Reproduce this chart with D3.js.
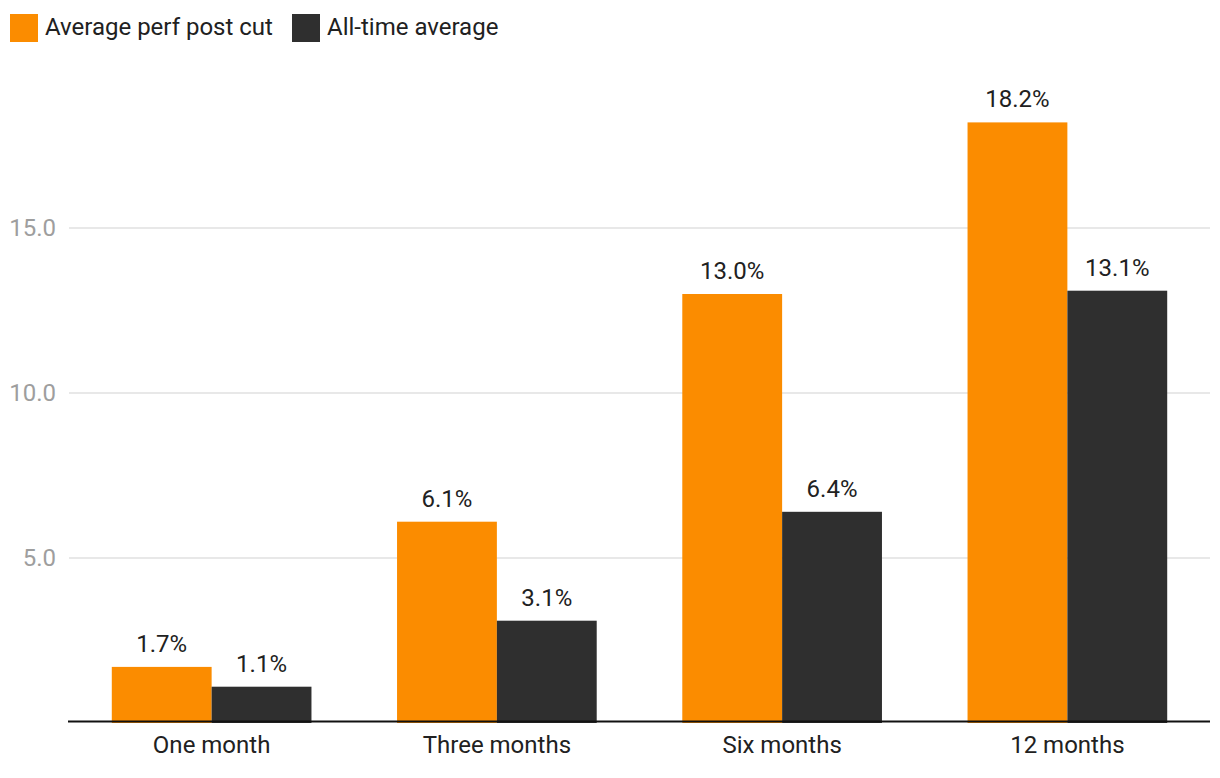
<!DOCTYPE html>
<html><head><meta charset="utf-8">
<script src="https://cdn.jsdelivr.net/npm/d3@7"></script>
<style>body{margin:0;background:#fff;}svg{display:block;font-family:Roboto,sans-serif;}</style>
</head><body><svg id="c" width="1220" height="778"></svg>
<script>
const categories = ["One month", "Three months", "Six months", "12 months"];
const seriesNames = ["Average perf post cut", "All-time average"];
const postCut = [1.7, 6.1, 13.0, 18.2];
const allTime = [1.1, 3.1, 6.4, 13.1];
const yTicks = [5, 10, 15];
const colors = ["#FB8C00", "#2F2F2F"];

const svg = d3.select("#c");
const left = 69, right = 1210, y0 = 723, pxPerUnit = 33;
const yMax = 19.5;
const FS = 24;
const x = d3.scaleBand().domain(categories).range([left, right]).paddingInner(0.3).paddingOuter(0.15);
const xs = d3.scaleBand().domain([0,1]).range([0, x.bandwidth()]);
const y = d3.scaleLinear().domain([0, yMax]).range([y0, y0 - yMax*pxPerUnit]);

// gridlines
svg.append("g").selectAll("line").data(yTicks).join("line")
  .attr("x1", left).attr("x2", right).attr("y1", d=>y(d)).attr("y2", d=>y(d))
  .attr("stroke", "#e0e0e0").attr("stroke-width", 1.5);
svg.append("g").selectAll("text").data(yTicks).join("text")
  .attr("x", 56).attr("y", d=>y(d)).attr("dy", "0.35em").attr("text-anchor","end")
  .attr("font-size", FS).attr("fill", "#9e9e9e").text(d=>d.toFixed(1));

const series = [postCut, allTime];
series.forEach((vals, si) => {
  const g = svg.append("g");
  g.selectAll("rect").data(vals).join("rect")
    .attr("x", (d,i)=>x(categories[i]) + xs(si)).attr("width", xs.bandwidth())
    .attr("y", d=>y(d)).attr("height", d=>y(0)-y(d)).attr("fill", colors[si]);
  g.selectAll("text").data(vals).join("text")
    .attr("x", (d,i)=>x(categories[i]) + xs(si) + xs.bandwidth()/2)
    .attr("y", d=>y(d) - 15).attr("text-anchor","middle")
    .attr("font-size", FS).attr("fill", "#212121").text(d=>d.toFixed(1)+"%");
});

// x axis
svg.append("line").attr("x1", left-1).attr("x2", right).attr("y1", 721.5).attr("y2", 721.5)
  .attr("stroke", "#111").attr("stroke-width", 2);
svg.append("g").selectAll("text").data(categories).join("text")
  .attr("x", d=>x(d)+x.bandwidth()/2).attr("y", 753).attr("text-anchor","middle")
  .attr("font-size", FS).attr("fill", "#212121").text(d=>d);

// legend
const legX = [10, 292];
seriesNames.forEach((n, i) => {
  svg.append("rect").attr("x", legX[i]).attr("y", 14).attr("width", 28).attr("height", 28).attr("fill", colors[i]);
  svg.append("text").attr("x", legX[i]+35).attr("y", 35)
    .attr("font-size", FS).attr("fill", "#212121").text(n);
});
</script></body></html>
